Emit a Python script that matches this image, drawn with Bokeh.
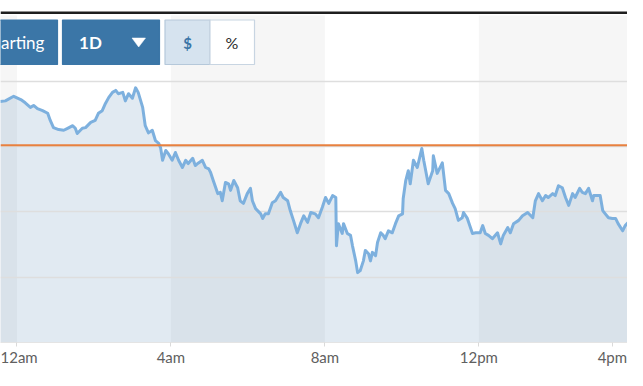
import pandas as pd
from bokeh.plotting import figure
from bokeh.models import Range1d, FixedTicker, Span, ColumnDataSource
from bokeh.core.properties import value
from bokeh.embed import file_html
from bokeh.resources import INLINE

# ---------------- data ----------------
times = ["23:34", "23:42", "23:55", "00:06", "00:13", "00:21", "00:26", "00:32", "00:40", "00:48",
         "00:52", "00:57", "01:05", "01:13", "01:19", "01:27", "01:31", "01:34", "01:42", "01:47",
         "01:55", "02:02", "02:07", "02:13", "02:18", "02:23", "02:29", "02:34", "02:38", "02:45",
         "02:49", "02:54", "03:00", "03:05", "03:09", "03:16", "03:20", "03:25", "03:31", "03:36",
         "03:41", "03:44", "03:47", "03:52", "03:56", "04:02", "04:07", "04:12", "04:18", "04:23",
         "04:27", "04:34", "04:38", "04:43", "04:49", "04:54", "04:59", "05:02", "05:06", "05:13",
         "05:17", "05:20", "05:25", "05:30", "05:33", "05:38", "05:44", "05:48", "05:53", "05:59",
         "06:04", "06:07", "06:12", "06:20", "06:23", "06:27", "06:32", "06:38", "06:43", "06:51",
         "06:55", "07:02", "07:06", "07:11", "07:17", "07:22", "07:27", "07:33", "07:38", "07:45",
         "07:50", "07:56", "08:01", "08:06", "08:12", "08:17", "08:18", "08:21", "08:27", "08:29",
         "08:35", "08:40", "08:43", "08:48", "08:51", "08:55", "09:00", "09:03", "09:08", "09:11",
         "09:14", "09:19", "09:22", "09:27", "09:31", "09:34", "09:39", "09:45", "09:50", "09:55",
         "10:01", "10:02", "10:06", "10:10", "10:13", "10:18", "10:24", "10:31", "10:34", "10:41",
         "10:48", "10:49", "10:55", "11:03", "11:08", "11:13", "11:19", "11:23", "11:28", "11:34",
         "11:36", "11:42", "11:50", "11:55", "12:02", "12:06", "12:10", "12:15", "12:21", "12:29",
         "12:34", "12:38", "12:45", "12:49", "12:54", "13:02", "13:08", "13:16", "13:24", "13:28",
         "13:33", "13:39", "13:44", "13:48", "13:55", "13:59", "14:04", "14:10", "14:15", "14:20",
         "14:26", "14:30", "14:37", "14:41", "14:46", "14:51", "14:57", "14:59", "15:05", "15:09",
         "15:13", "15:17", "15:22", "15:28", "15:33", "15:37", "15:44", "15:48", "15:53", "15:59",
         "16:04", "16:09", "16:15"]
prices = [100.69, 100.70, 100.77, 100.72, 100.67, 100.60, 100.63, 100.58, 100.55, 100.51,
          100.40, 100.29, 100.26, 100.25, 100.28, 100.32, 100.28, 100.20, 100.28, 100.29,
          100.37, 100.40, 100.51, 100.55, 100.66, 100.75, 100.83, 100.86, 100.81, 100.83,
          100.70, 100.81, 100.74, 100.90, 100.83, 100.60, 100.32, 100.21, 100.25, 100.09,
          100.05, 99.98, 99.79, 99.94, 99.89, 99.79, 99.91, 99.79, 99.68, 99.79,
          99.74, 99.82, 99.71, 99.75, 99.79, 99.68, 99.66, 99.60, 99.48, 99.28,
          99.30, 99.17, 99.45, 99.43, 99.33, 99.48, 99.37, 99.17, 99.13, 99.28,
          99.36, 99.17, 99.05, 98.97, 98.90, 98.97, 98.97, 99.14, 99.17, 99.30,
          99.22, 99.17, 99.02, 98.87, 98.68, 98.82, 98.94, 98.84, 98.99, 98.97,
          98.91, 99.07, 99.22, 99.13, 99.25, 99.22, 98.48, 98.82, 98.67, 98.82,
          98.67, 98.64, 98.48, 98.25, 98.07, 98.10, 98.25, 98.41, 98.36, 98.25,
          98.38, 98.33, 98.53, 98.68, 98.64, 98.59, 98.71, 98.68, 98.82, 98.94,
          98.97, 99.20, 99.48, 99.63, 99.43, 99.79, 99.68, 99.97, 99.79, 99.43,
          99.63, 99.86, 99.59, 99.75, 99.33, 99.28, 99.13, 99.05, 98.87, 98.91,
          98.99, 98.90, 98.67, 98.68, 98.68, 98.79, 98.67, 98.64, 98.59, 98.68,
          98.51, 98.64, 98.76, 98.68, 98.82, 98.87, 98.94, 98.99, 98.91, 99.17,
          99.28, 99.17, 99.25, 99.22, 99.28, 99.25, 99.40, 99.37, 99.22, 99.10,
          99.28, 99.22, 99.36, 99.30, 99.28, 99.36, 99.17, 99.25, 99.25, 99.25,
          99.02, 98.97, 98.91, 98.90, 98.90, 98.82, 98.71, 98.79, 98.84, 98.82,
          98.90, 98.91, 98.99]
prev_close = 100.02
grid_levels = [98.0, 99.0, 100.0, 101.0]
# the 4pm tick sits just beyond the right edge of this view; its label is kept at the edge
tick_times = ["00:00", "04:00", "08:00", "12:00", "15:28"]
tick_labels = ["12am", "4am", "8am", "12pm", "4pm"]
band_starts = ["20:00", "04:00", "12:00"]
band_ends = ["00:00", "08:00", "16:00"]
view_start, view_end = "23:34:26", "15:51:36"
y_low, y_high = 97.0, 102.237

# ---------------- layout constants (pixels) ----------------
W, FRAME_H = 627, 342
BLUE = "#3b76a7"


def to_dt(t):
    day = "2024-03-04" if int(t[:2]) >= 18 else "2024-03-05"
    return pd.Timestamp(f"{day} {t}")


dts = [to_dt(t) for t in times]
src = ColumnDataSource(dict(t=dts, p=prices))

p = figure(frame_width=W, frame_height=FRAME_H, output_backend="svg", toolbar_location=None,
           x_axis_type="datetime", y_axis_location=None,
           x_range=Range1d(to_dt(view_start), to_dt(view_end)),
           y_range=Range1d(y_low, y_high),
           min_border_left=0, min_border_right=0, min_border_top=0, min_border_bottom=0,
           background_fill_color="white", border_fill_color="white", outline_line_color=None)
p.extra_x_ranges = {"px": Range1d(0, W)}
p.extra_y_ranges = {"px": Range1d(FRAME_H, 0)}

# alternating background bands
bands = ColumnDataSource(dict(l=[to_dt(t) for t in band_starts], r=[to_dt(t) for t in band_ends]))
br = p.quad(left="l", right="r", top=15, bottom=FRAME_H, source=bands, y_range_name="px",
            fill_color="#f6f6f6", line_color=None)
br.level = "image"

# area fill
ar = p.varea(x="t", y1=y_low, y2="p", source=src, fill_color="#5b8db8", fill_alpha=0.18)
ar.level = "image"

# grid
p.xgrid.visible = False
p.ygrid.ticker = FixedTicker(ticks=grid_levels)
p.ygrid.grid_line_color = "#dedede"
p.ygrid.grid_line_width = 1.5

# previous close
p.add_layout(Span(location=prev_close, dimension="width", line_color="#e8813f", line_width=2))

# price line
p.line(x="t", y="p", source=src, line_color="#7db0de", line_width=3, line_join="round")

# top rule
p.segment(x0=[0], x1=[W], y0=[12.3], y1=[12.3], x_range_name="px", y_range_name="px",
          line_color="#1e1e1e", line_width=2.6)

# buttons
btn = ColumnDataSource(dict(l=[-40, 62, 164.5, 209.5], r=[57, 159, 209.5, 254],
                            fill=[BLUE, BLUE, "#d6e3ef", "#ffffff"],
                            line=[BLUE, BLUE, "#b5c8da", "#c8d5e2"]))
p.quad(left="l", right="r", top=19.5, bottom=64, source=btn, x_range_name="px", y_range_name="px",
       fill_color="fill", line_color="line", line_width=1.2)
p.text(x=[0.5], y=[42], text=["arting"], x_range_name="px", y_range_name="px",
       text_font=value("Lato"), text_font_size="17px", text_color="white",
       text_align="left", text_baseline="middle")
p.text(x=[90], y=[42], text=["1D"], x_range_name="px", y_range_name="px",
       text_font=value("Lato"), text_font_size="17px", text_font_style="bold", text_color="white",
       text_align="center", text_baseline="middle")
p.patch(x=[131.5, 145, 138.2], y=[37.5, 37.5, 46.5], x_range_name="px", y_range_name="px",
        fill_color="white", line_color="white", line_width=0.5)
p.text(x=[187], y=[42], text=["$"], x_range_name="px", y_range_name="px",
       text_font=value("Lato"), text_font_size="15px", text_font_style="bold", text_color=BLUE,
       text_align="center", text_baseline="middle")
p.text(x=[231.5], y=[42], text=["%"], x_range_name="px", y_range_name="px",
       text_font=value("Lato"), text_font_size="16px", text_color="#2a2a2a",
       text_align="center", text_baseline="middle")

# x axis
tick_ms = [to_dt(t).timestamp() * 1000.0 for t in tick_times]
ax = p.xaxis[0]
ax.ticker = FixedTicker(ticks=tick_ms)
ax.major_label_overrides = {ms: lab for ms, lab in zip(tick_ms, tick_labels)}
ax.minor_tick_line_color = None
ax.major_tick_in = 0
ax.major_tick_out = 4
ax.major_tick_line_color = "#dadada"
ax.axis_line_color = "#e4e4e4"
ax.major_label_text_font = "Lato"
ax.major_label_text_font_size = "15px"
ax.major_label_text_color = "#606060"
ax.major_label_standoff = 1

open("out.html", "w").write(file_html(p, INLINE))
